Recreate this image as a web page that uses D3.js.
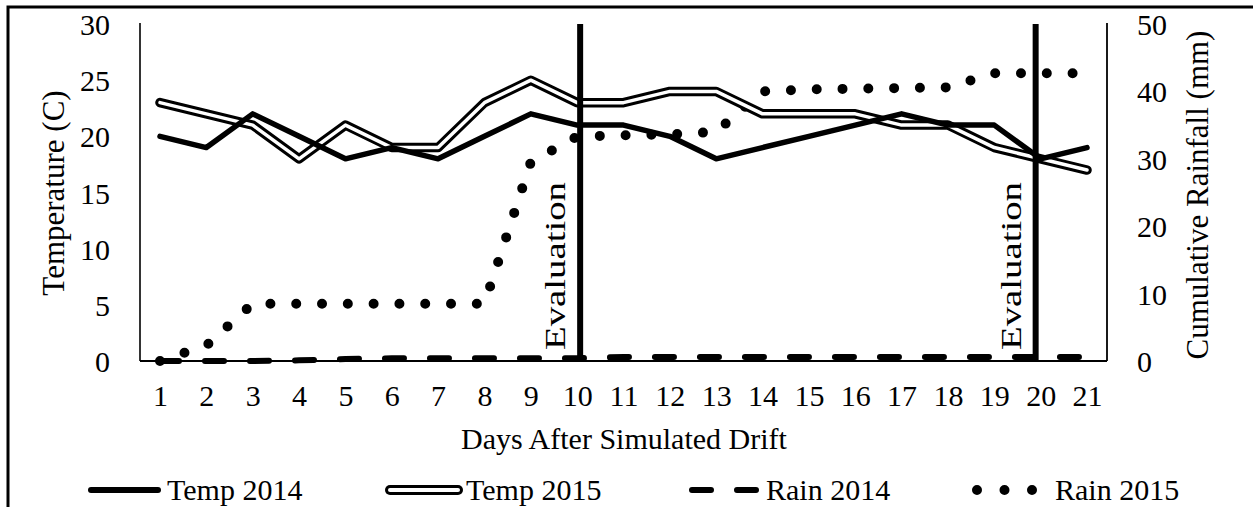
<!DOCTYPE html>
<html>
<head>
<meta charset="utf-8">
<script src="https://cdn.jsdelivr.net/npm/d3@7"></script>
<style>
  html, body { margin: 0; padding: 0; background: #fff; }
  svg text { font-family: "Liberation Serif", "Times New Roman", serif; fill: #000; }
</style>
</head>
<body>
<svg id="chart" width="1253" height="507"></svg>
<script>
const days = [1,2,3,4,5,6,7,8,9,10,11,12,13,14,15,16,17,18,19,20,21];
const temp2014 = [20,19,22,20,18,19,18,20,22,21,21,20,18,19,20,21,22,21,21,18,19];
const temp2015 = [23,22,21,18,21,19,19,23,25,23,23,24,24,22,22,22,21,21,19,18,17];
const rain2014 = [0,0,0,0.1,0.3,0.4,0.4,0.4,0.4,0.4,0.6,0.6,0.6,0.6,0.6,0.6,0.6,0.6,0.6,0.6,0.6];
const rain2015 = [0,2.3,8.5,8.5,8.5,8.5,8.5,8.5,29.5,33.3,33.5,33.6,34,40,40.3,40.4,40.5,40.6,42.7,42.7,42.7];
const tempTicks = [0,5,10,15,20,25,30];
const rainTicks = [0,10,20,30,40,50];
const evaluationDays = [10,20];
const legendItems = ["Temp 2014","Temp 2015","Rain 2014","Rain 2015"];

(function(){
const svg = d3.select("#chart");
const pL = 140, pR = 1107, pT = 24, pB = 361;

// outer frame
svg.append("rect").attr("x",8).attr("y",7).attr("width",1300).attr("height",600)
  .attr("fill","none").attr("stroke","#000").attr("stroke-width",3);

const x = d3.scalePoint().domain(days).range([160,1087]);
const yT = d3.scaleLinear().domain([0,30]).range([pB, pT]);
const yR = d3.scaleLinear().domain([0,50]).range([pB, pT]);

// axes
const axL = svg.append("g").attr("transform",`translate(${pL},0)`)
  .call(d3.axisLeft(yT).tickValues(tempTicks).tickSize(0).tickPadding(30));
axL.select(".domain").attr("stroke","#000").attr("stroke-width",1.6).attr("d",`M0,${pT-1}V${pB}`);
axL.selectAll("text").attr("font-size",30).attr("font-family","Liberation Serif").attr("dy","0.35em");

const axR = svg.append("g").attr("transform",`translate(${pR},0)`)
  .call(d3.axisRight(yR).tickValues(rainTicks).tickSize(0).tickPadding(30));
axR.select(".domain").attr("stroke","#000").attr("stroke-width",1.8).attr("d",`M0,${pT-1}V${pB}`);
axR.selectAll("text").attr("font-size",30).attr("font-family","Liberation Serif").attr("dy","0.35em");

const axB = svg.append("g").attr("transform",`translate(0,${pB})`)
  .call(d3.axisBottom(x).tickSize(0).tickPadding(24));
axB.select(".domain").attr("stroke","#000").attr("stroke-width",2).attr("d",`M${pL},0H${pR}`);
axB.selectAll("text").attr("font-size",30).attr("font-family","Liberation Serif");

// axis titles
svg.append("text").attr("transform",`translate(64,193) rotate(-90)`).attr("text-anchor","middle")
  .attr("font-size",31).text("Temperature (C)");
svg.append("text").attr("transform",`translate(1208,195) rotate(-90)`).attr("text-anchor","middle")
  .attr("font-size",31).text("Cumulative Rainfall (mm)");
svg.append("text").attr("x",624).attr("y",449).attr("text-anchor","middle")
  .attr("font-size",30).text("Days After Simulated Drift");

// lines
const lineT = d3.line().x((d,i)=>x(days[i])).y(d=>yT(d));
const lineR = d3.line().x((d,i)=>x(days[i])).y(d=>yR(d));

svg.append("path").datum(rain2014).attr("d",lineR).attr("fill","none").attr("stroke","#000")
  .attr("stroke-width",6).attr("stroke-dasharray","19 26").attr("stroke-linecap","round");
svg.append("path").datum(rain2015).attr("d",lineR).attr("fill","none").attr("stroke","#000")
  .attr("stroke-width",10).attr("stroke-dasharray","0 25.8").attr("stroke-linecap","round");

svg.append("path").datum(temp2015).attr("d",lineT).attr("fill","none").attr("stroke","#000")
  .attr("stroke-width",9.5).attr("stroke-linejoin","round").attr("stroke-linecap","round");
svg.append("path").datum(temp2015).attr("d",lineT).attr("fill","none").attr("stroke","#fff")
  .attr("stroke-width",3.5).attr("stroke-linejoin","round").attr("stroke-linecap","round");
svg.append("path").datum(temp2014).attr("d",lineT).attr("fill","none").attr("stroke","#000")
  .attr("stroke-width",5.5).attr("stroke-linejoin","round").attr("stroke-linecap","round");

// evaluation lines
const evalOffset = [3, -5];
evaluationDays.forEach((dy,i) => {
  const xv = x(dy) + evalOffset[i];
  svg.append("line").attr("x1",xv).attr("x2",xv).attr("y1",pT).attr("y2",pB)
    .attr("stroke","#000").attr("stroke-width",6);
  svg.append("text").attr("transform",`translate(${xv-15},350) rotate(-90)`)
    .attr("text-anchor","start").attr("font-size",30)
    .attr("textLength",168).attr("lengthAdjust","spacingAndGlyphs").text("Evaluation");
});

// legend
const ly = 490;
const lg = svg.append("g");
lg.append("line").attr("x1",91).attr("x2",158).attr("y1",ly).attr("y2",ly)
  .attr("stroke","#000").attr("stroke-width",6).attr("stroke-linecap","round");
lg.append("line").attr("x1",390).attr("x2",458).attr("y1",ly).attr("y2",ly)
  .attr("stroke","#000").attr("stroke-width",10).attr("stroke-linecap","round");
lg.append("line").attr("x1",390).attr("x2",458).attr("y1",ly).attr("y2",ly)
  .attr("stroke","#fff").attr("stroke-width",4).attr("stroke-linecap","round");
lg.append("line").attr("x1",692).attr("x2",756).attr("y1",ly).attr("y2",ly)
  .attr("stroke","#000").attr("stroke-width",6).attr("stroke-dasharray","19 26").attr("stroke-linecap","round");
lg.append("line").attr("x1",977).attr("x2",1034).attr("y1",ly).attr("y2",ly)
  .attr("stroke","#000").attr("stroke-width",10).attr("stroke-dasharray","0 27.5").attr("stroke-linecap","round");
const lx = [167, 466, 766, 1055];
legendItems.forEach((t,i)=>{
  lg.append("text").attr("x",lx[i]).attr("y",500).attr("font-size",30).text(t);
});
})();
</script>
</body>
</html>
